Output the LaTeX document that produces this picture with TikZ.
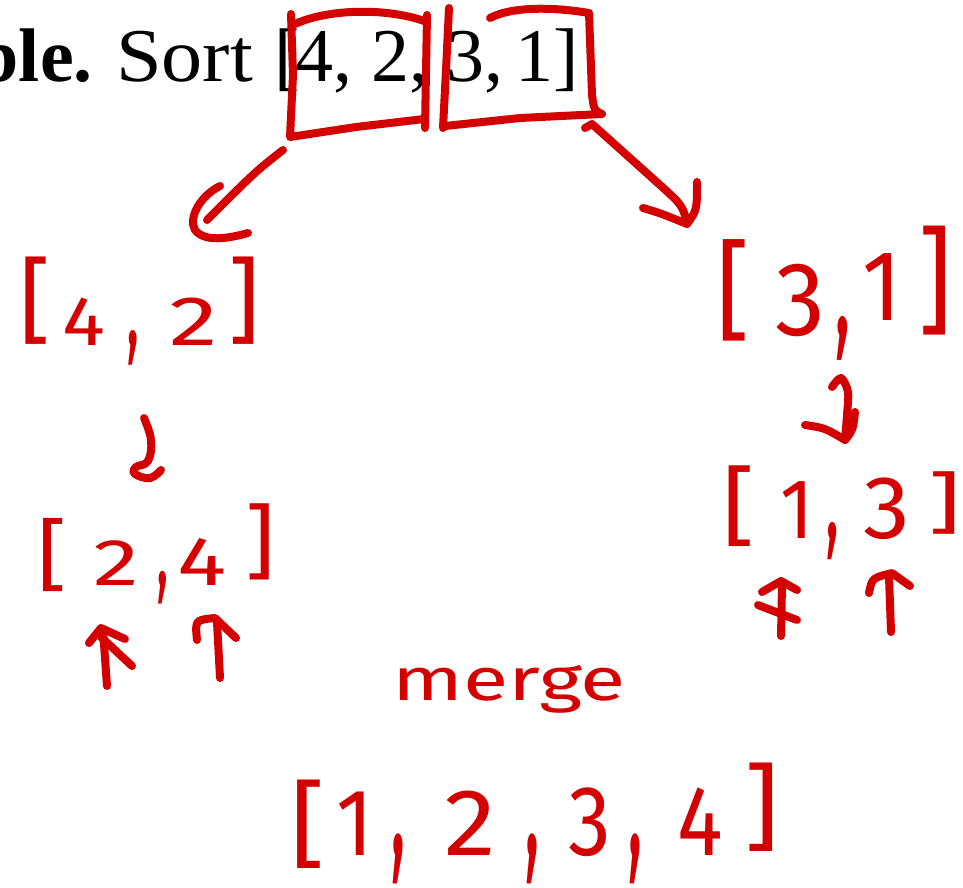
\documentclass[tikz,border=0pt]{standalone}
\usepackage{fontspec}
\usepackage{graphicx}
\setmainfont{Liberation Serif}
\newfontfamily\hand{Fira Sans}
\definecolor{hred}{RGB}{212,0,0}
\newcommand\gc[1]{\makebox[0pt]{#1}}
% glyph: h-scale, v-scale, raise, glyph
\newcommand\gs[4]{\gc{\raisebox{#3}{\scalebox{#1}[#2]{#4}}}}
\begin{document}
\begin{tikzpicture}[x=1pt,y=-1pt,
  ink/.style={draw=hred, line width=8pt, line cap=round, line join=round},
  hw/.style={text=hred, inner sep=0pt, anchor=base west},
  pt/.style={inner sep=0pt, anchor=base west, font=\fontsize{76}{80}\selectfont}]
\useasboundingbox (0,0) rectangle (963,887);
% printed line
\node[pt, anchor=base east] (ble) at (93,81) {\textbf{ble.}};
\node[pt] (sort) at (116,81) {\scalebox{1.08}[1]{Sort}};
\node[pt] (lbr) at (274,81) {[};
\node[pt] (t42) at (295,81) {4, 2,};
\node[pt] (t31) at (446,81) {\spaceskip=12pt 3, 1]};
% boxes
\draw[ink] (291,14) -- (293,75) -- (290,137) -- (356,127) -- (424,119);
\draw[ink] (295,24) .. controls (330,8) and (390,8) .. (427,22);
\draw[ink] (427,15) -- (425,128);
\draw[ink] (449,8) -- (446,70) -- (443,128);
\draw[ink] (490,18) .. controls (515,5) and (560,8) .. (589,13) -- (592,95) .. controls (594,110) .. (602,114) -- (520,118) -- (445,126);
% handwritten lists
\node[hw, font=\hand\fontsize{70}{70}\selectfont] (l42) at (35,345)
 {\gs{1.4}{1.34}{12pt}{[}\hspace{49pt}\gs{1.15}{1.0}{0pt}{4}\hspace{49pt}\gs{0.8}{1.7}{0pt}{,}\hspace{61pt}\gs{1.4}{1.0}{0pt}{2}\hspace{50pt}\gs{1.4}{1.34}{12pt}{]}};
\node[hw, font=\hand\fontsize{66}{66}\selectfont] (l24) at (52,585)
 {\gs{1.4}{1.19}{3pt}{[}\hspace{64pt}\gs{1.4}{1.0}{0pt}{2}\hspace{47pt}\gs{0.8}{1.7}{0pt}{,}\hspace{39pt}\gs{1.4}{1.05}{0pt}{4}\hspace{58pt}\gs{1.4}{1.24}{15pt}{]}};
\node[hw, font=\hand\fontsize{100}{100}\selectfont] (l31) at (733,335)
 {\gs{1.05}{1.09}{7pt}{[}\hspace{67pt}\gs{1.0}{1.05}{0pt}{3}\hspace{43pt}\gs{0.7}{1.5}{0pt}{,}\hspace{39pt}\gs{0.9}{1.0}{15pt}{1}\hspace{53pt}\gs{1.05}{1.17}{14pt}{]}};
\node[hw, font=\hand\fontsize{85}{85}\selectfont] (l13) at (739,538)
 {\gs{1.2}{1.02}{2pt}{[}\hspace{58pt}\gs{0.9}{1.0}{0pt}{1}\hspace{35pt}\gs{0.7}{1.5}{0pt}{,}\hspace{55pt}\gs{1.1}{1.05}{0pt}{3}\hspace{58pt}\gs{1.2}{0.79}{12pt}{]}};
\node[hw, font=\hand\fontsize{60}{60}\selectfont] (merge) at (392,700) {\scalebox{1.38}[1]{merge}};
\node[hw, font=\hand\fontsize{95}{95}\selectfont] (l1234) at (308,855)
 {\gs{1.15}{1.0}{-2pt}{[}\hspace{47pt}\gs{0.9}{1.0}{0pt}{1}\hspace{43pt}\gs{0.7}{1.8}{0pt}{,}\hspace{72pt}\gs{1.1}{1.0}{0pt}{2}\hspace{62pt}\gs{0.7}{1.8}{0pt}{,}\hspace{58pt}\gs{0.9}{1.05}{0pt}{3}\hspace{45pt}\gs{0.7}{1.8}{0pt}{,}\hspace{65pt}\gs{0.9}{1.05}{0pt}{4}\hspace{62pt}\gs{1.15}{1.0}{15pt}{]}};
% connector end points
\coordinate (a1s) at (283,150);
\coordinate (a1e) at (207,220);
\coordinate (a2s) at (592,124);
\coordinate (a2e) at (687,222);
% split arrows
\draw[ink] (a1s) .. controls (255,172) .. (a1e);
\draw[ink] (220,186) .. controls (200,196) and (188,218) .. (195,230) .. controls (205,243) and (230,238) .. (248,233);
\draw[ink] (585,128) -- (a2s) -- (660,185) .. controls (682,205) .. (a2e);
\draw[ink] (643,208) .. controls (660,213) .. (687,224) .. controls (697,210) .. (697,182);
% sort arrows
\draw[ink] plot[smooth, tension=0.7] coordinates {(144,418) (151,440) (148,461) (136,467) (135,474) (150,478) (161,470)};
\draw[ink] plot[smooth] coordinates {(832,387) (841,378) (848,392) (847,415) (845,440)};
\draw[ink] (805,425) .. controls (825,428) .. (845,440) .. controls (853,430) .. (855,412);
% pointers under [2,4]
\draw[ink] (107,686) -- (103,630);
\draw[ink] (89,643) -- (101,628) -- (125,639);
\draw[ink] (101,637) -- (132,666);
\draw[ink] (220,678) -- (217,622);
\draw[ink] (197,640) .. controls (195,620) .. (215,618) -- (236,638);
% pointers under [1,3]
\draw[ink] (781,636) -- (782,585);
\draw[ink] (762,592) -- (781,581) -- (797,590);
\draw[ink] (758,605) -- (797,620);
\draw[ink] (891,632) -- (889,577);
\draw[ink] (869,593) .. controls (872,578) .. (892,573) -- (910,586);
\end{tikzpicture}
\end{document}
